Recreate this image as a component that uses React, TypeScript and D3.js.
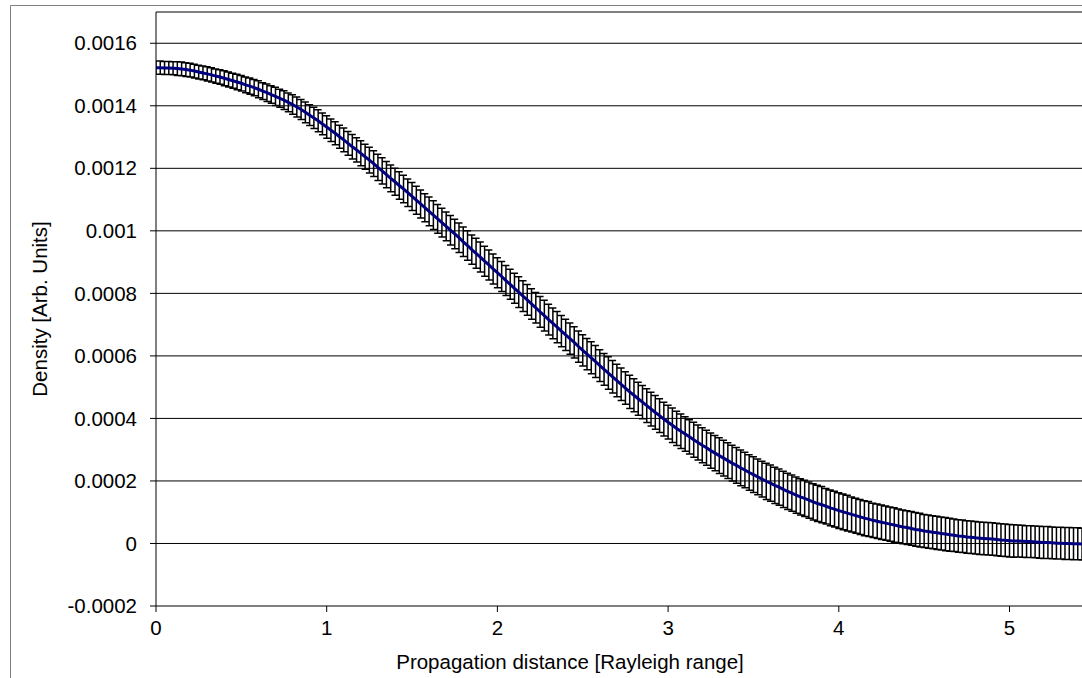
import React from 'react';
import * as d3 from 'd3';

// Sampling step of the propagation distance (Rayleigh ranges)
const STEP = 0.025;
// Densities and error half-widths are listed in micro-units (x 1e-6)
const UNIT = 1e-6;

const densityMicro: number[] = [
  1522, 1522, 1521, 1521, 1520, 1519, 1518, 1516, 1514, 1511,
  1508, 1505, 1502, 1499, 1495, 1492, 1488, 1484, 1480, 1476,
  1472, 1467, 1463, 1458, 1453, 1447, 1442, 1436, 1430, 1424,
  1418, 1411, 1404, 1396, 1388, 1379, 1370, 1361, 1352, 1342,
  1332, 1322, 1312, 1301, 1291, 1280, 1269, 1259, 1248, 1237,
  1226, 1215, 1203, 1192, 1180, 1168, 1157, 1145, 1134, 1122,
  1110, 1098, 1086, 1074, 1062, 1050, 1038, 1026, 1014, 1002,
  990, 978, 965, 953, 940, 928, 916, 903, 891, 878,
  866, 854, 841, 829, 816, 804, 791, 779, 766, 754,
  741, 729, 716, 704, 692, 679, 667, 655, 643, 630,
  618, 606, 594, 582, 569, 557, 545, 533, 521, 509,
  497, 485, 474, 463, 452, 441, 430, 419, 409, 398,
  388, 378, 368, 359, 350, 341, 332, 323, 314, 306,
  297, 289, 281, 273, 265, 257, 250, 242, 235, 227,
  220, 213, 206, 199, 193, 186, 180, 173, 167, 161,
  155, 149, 144, 139, 133, 128, 124, 119, 114, 110,
  105, 101, 97, 93, 89, 85, 81, 78, 74, 71,
  68, 65, 62, 59, 56, 53, 51, 48, 45, 43,
  40, 38, 36, 34, 32, 30, 28, 26, 24, 23,
  21, 20, 18, 17, 16, 15, 14, 13, 11, 10,
  9, 8, 8, 7, 6, 6, 5, 4, 3, 3,
  2, 1, 1, 0, 0, -1, -1, -2, -2,
];

const errorMicro: number[] = [
  21, 21, 21, 21, 21, 22, 22, 22, 22, 22,
  22, 22, 23, 23, 23, 23, 24, 24, 24, 25,
  25, 25, 26, 26, 27, 27, 28, 28, 29, 29,
  30, 30, 31, 32, 32, 33, 33, 34, 35, 35,
  36, 36, 37, 37, 38, 38, 39, 39, 40, 40,
  41, 41, 42, 42, 42, 43, 43, 44, 44, 44,
  45, 45, 45, 45, 46, 46, 46, 46, 46, 47,
  47, 47, 47, 47, 47, 48, 48, 48, 48, 48,
  48, 48, 48, 48, 48, 49, 49, 49, 49, 49,
  49, 49, 49, 49, 50, 50, 50, 50, 50, 50,
  50, 50, 51, 51, 51, 51, 52, 52, 52, 52,
  52, 53, 53, 53, 53, 54, 54, 54, 54, 54,
  54, 55, 55, 55, 55, 55, 56, 56, 56, 56,
  56, 56, 57, 57, 57, 57, 57, 57, 57, 57,
  57, 57, 57, 58, 58, 58, 58, 58, 58, 58,
  58, 58, 58, 58, 58, 58, 58, 57, 57, 57,
  57, 57, 57, 56, 56, 56, 56, 56, 55, 55,
  55, 55, 55, 55, 54, 54, 54, 54, 54, 54,
  53, 53, 53, 53, 53, 53, 53, 52, 52, 52,
  52, 52, 52, 52, 52, 52, 52, 52, 52, 52,
  52, 52, 51, 51, 51, 51, 51, 51, 51, 51,
  51, 51, 51, 51, 51, 51, 51, 51, 51,
];

const yTickValues = [-0.0002, 0, 0.0002, 0.0004, 0.0006, 0.0008, 0.001, 0.0012, 0.0014, 0.0016];
const yTickLabels = ['-0.0002', '0', '0.0002', '0.0004', '0.0006', '0.0008', '0.001', '0.0012', '0.0014', '0.0016'];
const xTickValues = [0, 1, 2, 3, 4, 5];
const xTickLabels = ['0', '1', '2', '3', '4', '5'];

const xTitle = 'Propagation distance [Rayleigh range]';
const yTitle = 'Density [Arb. Units]';

const W = 1082;
const H = 678;
const PL = 156;
const PT = 12;
const PB = 606;
const PX_PER_UNIT = 170.7;
const X_MAX = 5.5;
const FONT = "'Liberation Sans', Arial, Helvetica, sans-serif";
const FS = 20.5;

export default function App() {
  const x = d3.scaleLinear().domain([0, X_MAX]).range([PL, PL + X_MAX * PX_PER_UNIT]);
  const y = d3.scaleLinear().domain([-0.0002, 0.0017]).range([PB, PT]);

  const pts = densityMicro.map((d, i) => ({
    x: i * STEP,
    v: d * UNIT,
    e: errorMicro[i] * UNIT,
  }));

  const line = d3
    .line<{ x: number; v: number }>()
    .x((d) => x(d.x))
    .y((d) => y(d.v));

  const cap = 3.5;
  const barsPath = pts
    .map((p) => {
      const px = x(p.x);
      const yt = y(p.v + p.e);
      const yb = y(p.v - p.e);
      return `M${px},${yt}V${yb}M${px - cap},${yt}H${px + cap}M${px - cap},${yb}H${px + cap}`;
    })
    .join('');

  return (
    <svg
      width={W}
      height={H}
      style={{ position: 'absolute', left: 0, top: 0, background: '#fff', overflow: 'hidden' }}
      fontFamily={FONT}
    >
      <rect x={0} y={0} width={W} height={H} fill="#fff" />
      {/* chart area border */}
      <path d={`M10.5,${H + 2}V5.5H${W + 2}`} fill="none" stroke="#808080" strokeWidth={1} />
      <defs>
        <clipPath id="plotClip">
          <rect x={PL} y={PT - 1} width={W - PL} height={PB - PT + 2} />
        </clipPath>
      </defs>
      {/* plot top border */}
      <line x1={PL} x2={W} y1={PT} y2={PT} stroke="#000" strokeWidth={1} />
      {/* gridlines */}
      {yTickValues
        .filter((v) => v > -0.0002)
        .map((v) => (
          <line key={'g' + v} x1={PL} x2={W} y1={y(v)} y2={y(v)} stroke="#000" strokeWidth={1} />
        ))}
      {/* error bars and series */}
      <g clipPath="url(#plotClip)">
        <path d={barsPath} fill="none" stroke="#000" strokeWidth={1.5} />
        <path d={line(pts) || ''} fill="none" stroke="#000080" strokeWidth={3} />
      </g>
      {/* axes */}
      <line x1={PL} x2={PL} y1={PT} y2={PB} stroke="#000" strokeWidth={1} />
      <line x1={PL} x2={W} y1={PB} y2={PB} stroke="#000" strokeWidth={1} />
      {yTickValues.map((v, i) => (
        <g key={'yt' + i}>
          <line x1={PL - 6} x2={PL} y1={y(v)} y2={y(v)} stroke="#000" strokeWidth={1} />
          <text x={137} y={y(v)} dy="0.35em" textAnchor="end" fontSize={FS} fill="#000">
            {yTickLabels[i]}
          </text>
        </g>
      ))}
      {xTickValues.map((v, i) => (
        <g key={'xt' + i}>
          <line x1={x(v)} x2={x(v)} y1={PB} y2={PB + 6} stroke="#000" strokeWidth={1} />
          <text x={x(v)} y={635} textAnchor="middle" fontSize={FS} fill="#000">
            {xTickLabels[i]}
          </text>
        </g>
      ))}
      <text x={570} y={669} textAnchor="middle" fontSize={FS} fill="#000">
        {xTitle}
      </text>
      <text
        transform={`translate(47, ${(PT + PB) / 2}) rotate(-90)`}
        textAnchor="middle"
        fontSize={FS}
        fill="#000"
      >
        {yTitle}
      </text>
    </svg>
  );
}
